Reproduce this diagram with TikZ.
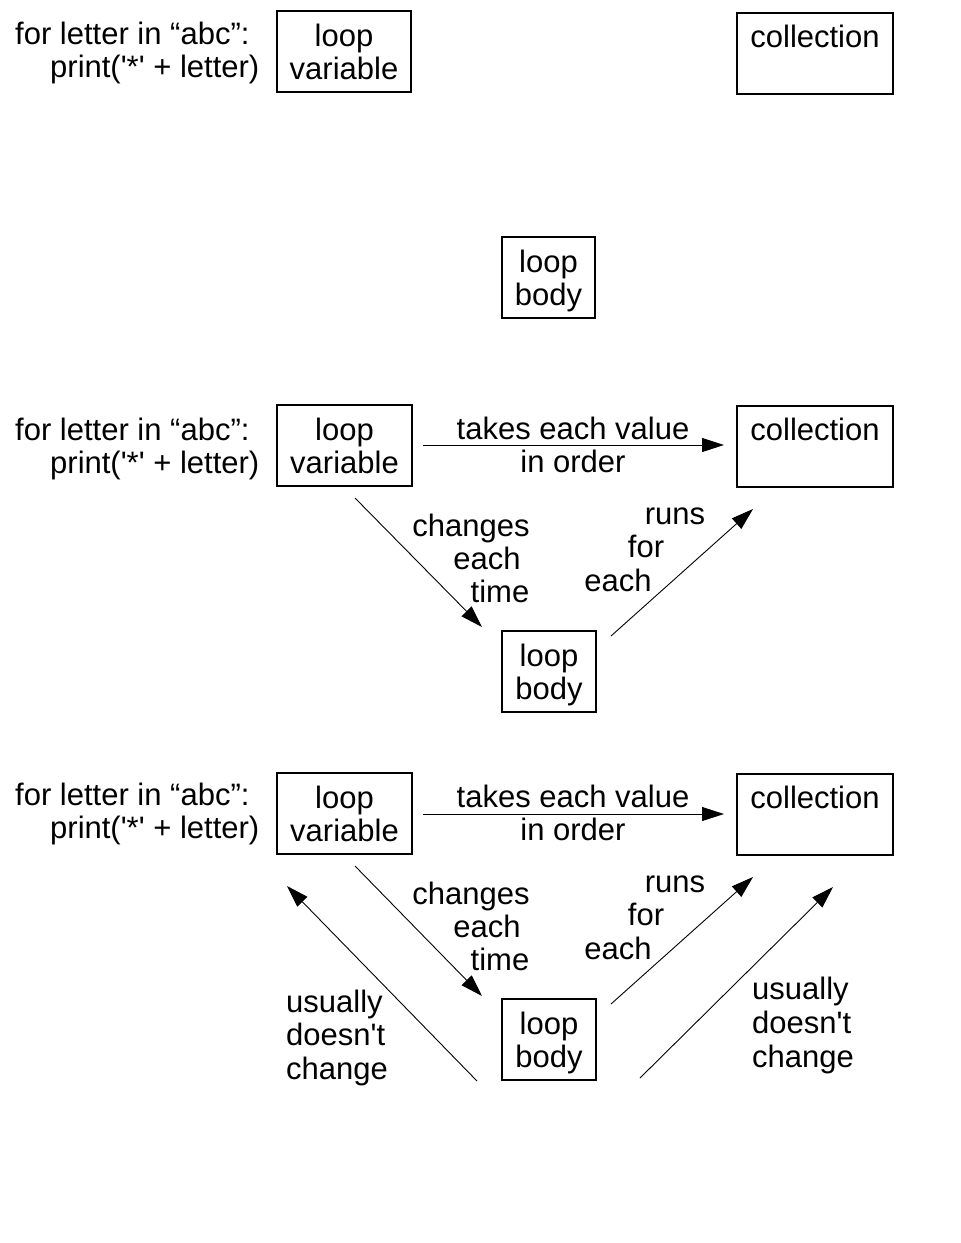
\documentclass[tikz,border=0pt]{standalone}
\usepackage{fontspec}
\setmainfont{Liberation Sans}[Ligatures=TeXOff]
\usetikzlibrary{arrows.meta}
\begin{document}
\begin{tikzpicture}[x=1pt,y=-1pt,
  font=\fontsize{31}{34}\selectfont,
  box/.style={draw, line width=2pt, inner sep=0pt, minimum height=81pt},
  lbl/.style={inner sep=0pt, anchor=base},
  lblw/.style={inner sep=0pt, anchor=base west},
  arr/.style={line width=0.9pt, -{Triangle[length=22pt,width=14pt]}}]
\useasboundingbox (0,0) rectangle (961,1243);

% ---------- section 1 ----------
\node[lblw] (c1a) at (15,44) {for letter in “abc”:};
\node[lblw] (c1b) at (50,77) {print('*' + letter)};
\node[box, minimum width=134pt] (lv1) at (344,51.5) {};
\node[box, minimum width=156pt] (co1) at (815,53.5) {};
\node[box, minimum width=93pt] (lb1) at (548.5,277.5) {};
\node[lbl] (lv1a) at ([yshift=-36pt]lv1.north) {loop};
\node[lbl] (lv1b) at ([yshift=-69pt]lv1.north) {variable};
\node[lbl] (co1a) at ([yshift=-35pt]co1.north) {collection};
\node[lbl] (lb1a) at ([yshift=-36pt]lb1.north) {loop};
\node[lbl] (lb1b) at ([yshift=-69pt]lb1.north) {body};

% ---------- section 2 ----------
\node[lblw] (c2a) at (15,440) {for letter in “abc”:};
\node[lblw] (c2b) at (50,473) {print('*' + letter)};
\node[box, minimum width=135pt] (lv2) at (344.5,445.5) {};
\node[box, minimum width=156pt] (co2) at (815,446.5) {};
\node[box, minimum width=94pt] (lb2) at (549,671.5) {};
\node[lbl] (lv2a) at ([yshift=-36pt]lv2.north) {loop};
\node[lbl] (lv2b) at ([yshift=-69pt]lv2.north) {variable};
\node[lbl] (co2a) at ([yshift=-35pt]co2.north) {collection};
\node[lbl] (lb2a) at ([yshift=-36pt]lb2.north) {loop};
\node[lbl] (lb2b) at ([yshift=-69pt]lb2.north) {body};

\coordinate (t2s) at (423,445);  \coordinate (t2e) at (724,445);
\coordinate (h2s) at (355,498);  \coordinate (h2e) at (482,627);
\coordinate (r2s) at (611,636);  \coordinate (r2e) at (753,509);
\draw[arr] (t2s) -- (t2e);
\draw[arr] (h2s) -- (h2e);
\draw[arr] (r2s) -- (r2e);

\node[lbl] (ta2) at (573,439) {takes each value};
\node[lbl] (tb2) at (573,472) {in order};
\node[lbl] (ha2) at (471,536) {changes};
\node[lbl] (hb2) at (487,569) {each};
\node[lbl] (hc2) at (500,602) {time};
\node[lbl] (ra2) at (675,524) {runs};
\node[lbl] (rb2) at (646,557) {for};
\node[lbl] (rc2) at (618,591) {each};

% ---------- section 3 ----------
\node[lblw] (c3a) at (15,805) {for letter in “abc”:};
\node[lblw] (c3b) at (50,838) {print('*' + letter)};
\node[box, minimum width=135pt] (lv3) at (344.5,813.5) {};
\node[box, minimum width=156pt] (co3) at (815,814.5) {};
\node[box, minimum width=94pt] (lb3) at (549,1039.5) {};
\node[lbl] (lv3a) at ([yshift=-36pt]lv3.north) {loop};
\node[lbl] (lv3b) at ([yshift=-69pt]lv3.north) {variable};
\node[lbl] (co3a) at ([yshift=-35pt]co3.north) {collection};
\node[lbl] (lb3a) at ([yshift=-36pt]lb3.north) {loop};
\node[lbl] (lb3b) at ([yshift=-69pt]lb3.north) {body};

\coordinate (t3s) at (423,814);  \coordinate (t3e) at (724,814);
\coordinate (h3s) at (355,866);  \coordinate (h3e) at (482,996);
\coordinate (r3s) at (611,1004); \coordinate (r3e) at (753,877);
\coordinate (u3s) at (477,1081); \coordinate (u3e) at (287,886);
\coordinate (v3s) at (640,1078); \coordinate (v3e) at (833,887);
\draw[arr] (t3s) -- (t3e);
\draw[arr] (h3s) -- (h3e);
\draw[arr] (r3s) -- (r3e);
\draw[arr] (u3s) -- (u3e);
\draw[arr] (v3s) -- (v3e);

\node[lbl] (ta3) at (573,807) {takes each value};
\node[lbl] (tb3) at (573,840) {in order};
\node[lbl] (ha3) at (471,904) {changes};
\node[lbl] (hb3) at (487,937) {each};
\node[lbl] (hc3) at (500,970) {time};
\node[lbl] (ra3) at (675,892) {runs};
\node[lbl] (rb3) at (646,925) {for};
\node[lbl] (rc3) at (618,959) {each};
\node[lblw] (ua3) at (286,1012) {usually};
\node[lblw] (ub3) at (286,1045) {doesn't};
\node[lblw] (uc3) at (286,1079) {change};
\node[lblw] (va3) at (752,999) {usually};
\node[lblw] (vb3) at (752,1033) {doesn't};
\node[lblw] (vc3) at (752,1067) {change};
\end{tikzpicture}
\end{document}
